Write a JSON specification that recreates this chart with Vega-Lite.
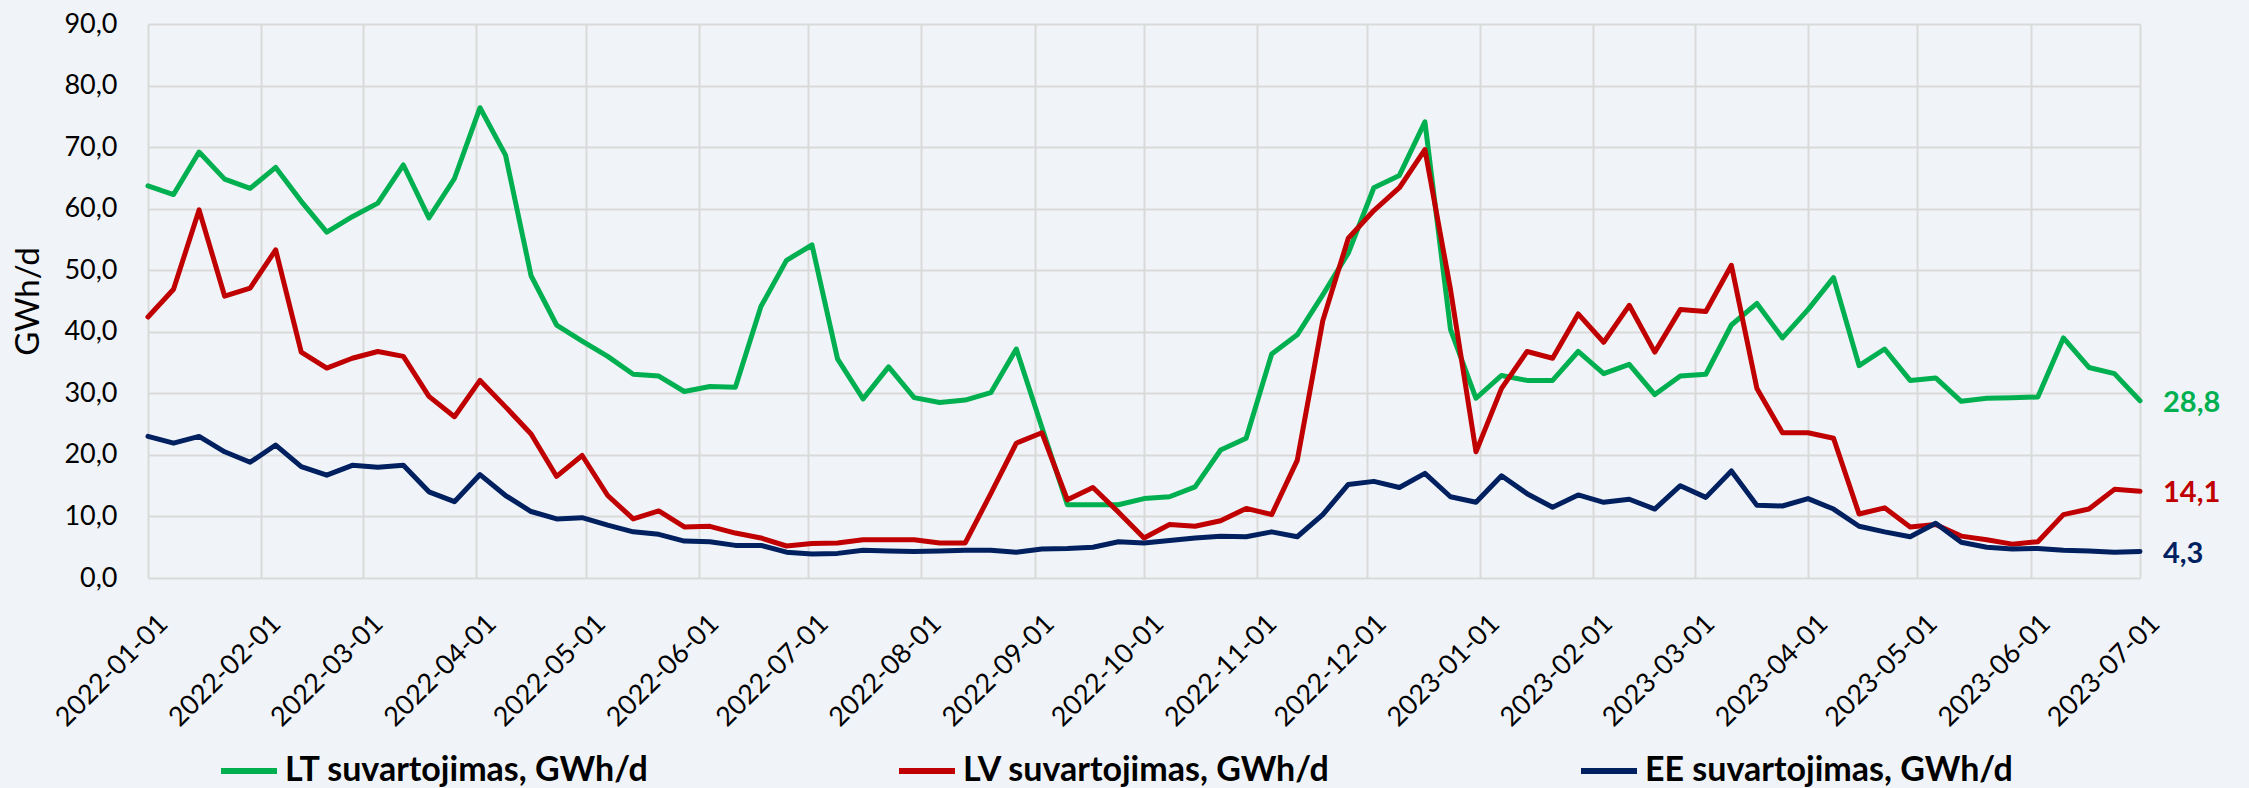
{
  "$schema": "https://vega.github.io/schema/vega-lite/v6.json",
  "width": 1992,
  "height": 554,
  "autosize": "none",
  "padding": {"left": 148, "top": 24, "right": 109, "bottom": 210},
  "background": "#F0F4F8",
  "config": {
    "locale": {"number": {"decimal": ",", "thousands": " ", "grouping": [3], "currency": ["", " €"]}},
    "view": {"stroke": null},
    "font": "Lato",
    "axis": {"labelFont": "Lato", "titleFont": "Lato", "labelColor": "#000000", "titleColor": "#000000", "gridColor": "#D9D9D9", "gridWidth": 2, "domain": false, "ticks": false}
  },
  "data": {"values": [
    {"d": "2022-01-01", "LT": 63.7, "LV": 42.4, "EE": 23.0},
    {"d": "2022-01-08", "LT": 62.3, "LV": 46.9, "EE": 21.9},
    {"d": "2022-01-15", "LT": 69.2, "LV": 59.8, "EE": 23.0},
    {"d": "2022-01-22", "LT": 64.8, "LV": 45.8, "EE": 20.5},
    {"d": "2022-01-29", "LT": 63.3, "LV": 47.1, "EE": 18.8},
    {"d": "2022-02-05", "LT": 66.7, "LV": 53.3, "EE": 21.6},
    {"d": "2022-02-12", "LT": 61.2, "LV": 36.7, "EE": 18.1},
    {"d": "2022-02-19", "LT": 56.2, "LV": 34.1, "EE": 16.7},
    {"d": "2022-02-26", "LT": 58.7, "LV": 35.7, "EE": 18.3},
    {"d": "2022-03-05", "LT": 60.9, "LV": 36.8, "EE": 18.0},
    {"d": "2022-03-12", "LT": 67.1, "LV": 36.0, "EE": 18.3},
    {"d": "2022-03-19", "LT": 58.5, "LV": 29.5, "EE": 14.0},
    {"d": "2022-03-26", "LT": 64.9, "LV": 26.2, "EE": 12.4},
    {"d": "2022-04-02", "LT": 76.4, "LV": 32.1, "EE": 16.8},
    {"d": "2022-04-09", "LT": 68.7, "LV": 27.8, "EE": 13.4},
    {"d": "2022-04-16", "LT": 49.1, "LV": 23.4, "EE": 10.8},
    {"d": "2022-04-23", "LT": 41.1, "LV": 16.5, "EE": 9.6},
    {"d": "2022-04-30", "LT": 38.5, "LV": 19.9, "EE": 9.8},
    {"d": "2022-05-07", "LT": 36.0, "LV": 13.4, "EE": 8.6},
    {"d": "2022-05-14", "LT": 33.1, "LV": 9.6, "EE": 7.5},
    {"d": "2022-05-21", "LT": 32.8, "LV": 10.9, "EE": 7.1},
    {"d": "2022-05-28", "LT": 30.3, "LV": 8.3, "EE": 6.0},
    {"d": "2022-06-04", "LT": 31.1, "LV": 8.4, "EE": 5.9},
    {"d": "2022-06-11", "LT": 31.0, "LV": 7.3, "EE": 5.3},
    {"d": "2022-06-18", "LT": 44.1, "LV": 6.5, "EE": 5.3},
    {"d": "2022-06-25", "LT": 51.6, "LV": 5.2, "EE": 4.2},
    {"d": "2022-07-02", "LT": 54.1, "LV": 5.6, "EE": 3.9},
    {"d": "2022-07-09", "LT": 35.6, "LV": 5.7, "EE": 4.0},
    {"d": "2022-07-16", "LT": 29.1, "LV": 6.2, "EE": 4.5},
    {"d": "2022-07-23", "LT": 34.3, "LV": 6.2, "EE": 4.4},
    {"d": "2022-07-30", "LT": 29.3, "LV": 6.2, "EE": 4.3},
    {"d": "2022-08-06", "LT": 28.5, "LV": 5.7, "EE": 4.4},
    {"d": "2022-08-13", "LT": 28.9, "LV": 5.7, "EE": 4.5},
    {"d": "2022-08-20", "LT": 30.1, "LV": 13.7, "EE": 4.5},
    {"d": "2022-08-27", "LT": 37.2, "LV": 21.9, "EE": 4.2},
    {"d": "2022-09-03", "LT": 24.5, "LV": 23.6, "EE": 4.7},
    {"d": "2022-09-10", "LT": 11.9, "LV": 12.7, "EE": 4.8},
    {"d": "2022-09-17", "LT": 11.9, "LV": 14.7, "EE": 5.0},
    {"d": "2022-09-24", "LT": 11.9, "LV": 10.7, "EE": 5.9},
    {"d": "2022-10-01", "LT": 12.9, "LV": 6.5, "EE": 5.7},
    {"d": "2022-10-08", "LT": 13.2, "LV": 8.7, "EE": 6.1},
    {"d": "2022-10-15", "LT": 14.8, "LV": 8.4, "EE": 6.5},
    {"d": "2022-10-22", "LT": 20.8, "LV": 9.3, "EE": 6.8},
    {"d": "2022-10-29", "LT": 22.7, "LV": 11.3, "EE": 6.7},
    {"d": "2022-11-05", "LT": 36.4, "LV": 10.3, "EE": 7.5},
    {"d": "2022-11-12", "LT": 39.5, "LV": 19.1, "EE": 6.7},
    {"d": "2022-11-19", "LT": 46.0, "LV": 41.8, "EE": 10.3},
    {"d": "2022-11-26", "LT": 52.8, "LV": 55.2, "EE": 15.2},
    {"d": "2022-12-03", "LT": 63.4, "LV": 59.7, "EE": 15.7},
    {"d": "2022-12-10", "LT": 65.4, "LV": 63.4, "EE": 14.7},
    {"d": "2022-12-17", "LT": 74.1, "LV": 69.6, "EE": 17.0},
    {"d": "2022-12-24", "LT": 40.4, "LV": 46.9, "EE": 13.2},
    {"d": "2022-12-31", "LT": 29.2, "LV": 20.5, "EE": 12.3},
    {"d": "2023-01-07", "LT": 32.9, "LV": 30.8, "EE": 16.6},
    {"d": "2023-01-14", "LT": 32.1, "LV": 36.8, "EE": 13.7},
    {"d": "2023-01-21", "LT": 32.1, "LV": 35.7, "EE": 11.5},
    {"d": "2023-01-28", "LT": 36.8, "LV": 42.9, "EE": 13.5},
    {"d": "2023-02-04", "LT": 33.2, "LV": 38.3, "EE": 12.3},
    {"d": "2023-02-11", "LT": 34.7, "LV": 44.3, "EE": 12.8},
    {"d": "2023-02-18", "LT": 29.8, "LV": 36.7, "EE": 11.2},
    {"d": "2023-02-25", "LT": 32.8, "LV": 43.6, "EE": 15.0},
    {"d": "2023-03-04", "LT": 33.1, "LV": 43.3, "EE": 13.1},
    {"d": "2023-03-11", "LT": 41.1, "LV": 50.8, "EE": 17.4},
    {"d": "2023-03-18", "LT": 44.6, "LV": 30.8, "EE": 11.8},
    {"d": "2023-03-25", "LT": 39.0, "LV": 23.6, "EE": 11.7},
    {"d": "2023-04-01", "LT": 43.6, "LV": 23.6, "EE": 12.9},
    {"d": "2023-04-08", "LT": 48.8, "LV": 22.7, "EE": 11.2},
    {"d": "2023-04-15", "LT": 34.5, "LV": 10.4, "EE": 8.4},
    {"d": "2023-04-22", "LT": 37.2, "LV": 11.4, "EE": 7.5},
    {"d": "2023-04-29", "LT": 32.1, "LV": 8.3, "EE": 6.7},
    {"d": "2023-05-06", "LT": 32.5, "LV": 8.7, "EE": 8.9},
    {"d": "2023-05-13", "LT": 28.7, "LV": 6.8, "EE": 5.8},
    {"d": "2023-05-20", "LT": 29.2, "LV": 6.2, "EE": 5.0},
    {"d": "2023-05-27", "LT": 29.3, "LV": 5.5, "EE": 4.7},
    {"d": "2023-06-03", "LT": 29.4, "LV": 5.9, "EE": 4.8},
    {"d": "2023-06-10", "LT": 39.0, "LV": 10.3, "EE": 4.5},
    {"d": "2023-06-17", "LT": 34.2, "LV": 11.2, "EE": 4.4},
    {"d": "2023-06-24", "LT": 33.2, "LV": 14.4, "EE": 4.2},
    {"d": "2023-07-01", "LT": 28.8, "LV": 14.1, "EE": 4.3}
  ]},
  "transform": [{"fold": ["LT", "LV", "EE"], "as": ["series", "value"]}],
  "encoding": {
    "x": {
      "field": "d", "type": "temporal",
      "scale": {"type": "utc", "nice": false},
      "axis": {
        "title": null,
        "tickCount": {"interval": "month", "step": 1},
        "labelExpr": "utcFormat(datum.value, '%Y-%m-%d')",
        "labelAngle": -45,
        "labelAlign": "right",
        "labelBaseline": "top",
        "labelFontSize": 27,
        "labelPadding": 32,
        "labelOffset": 6,
        "labelOverlap": false,
        "labelBound": false,
        "labelFlush": false,
        "grid": true
      }
    },
    "y": {
      "field": "value", "type": "quantitative",
      "scale": {"domain": [0, 90], "nice": false},
      "axis": {
        "title": "GWh/d",
        "titleFontSize": 33,
        "titleFontWeight": "normal",
        "titlePadding": 18,
        "values": [0, 10, 20, 30, 40, 50, 60, 70, 80, 90],
        "format": ".1f",
        "labelFontSize": 27,
        "labelPadding": 31,
        "grid": true
      }
    },
    "color": {
      "field": "series", "type": "nominal",
      "scale": {"domain": ["LT", "LV", "EE"], "range": ["#00B050", "#C00000", "#002060"]}
    }
  },
  "layer": [
    {
      "mark": {"type": "line", "strokeWidth": 5, "strokeJoin": "round", "strokeCap": "round"},
      "encoding": {
        "color": {
          "field": "series", "type": "nominal",
          "legend": {
            "orient": "none", "legendX": 70, "legendY": 716,
            "direction": "horizontal", "columns": 3, "columnPadding": 238,
            "symbolType": "stroke", "symbolSize": 3136, "symbolStrokeWidth": 6,
            "labelFontSize": 34, "labelFont": "Lato", "labelFontWeight": "bold", "labelColor": "#000000",
            "labelExpr": "datum.label + ' suvartojimas, GWh/d'",
            "labelLimit": 0, "labelOffset": 5, "title": null
          }
        }
      }
    },
    {
      "transform": [{"filter": {"field": "d", "equal": {"year": 2023, "month": 7, "date": 1, "utc": true}}}],
      "mark": {"type": "text", "align": "left", "baseline": "middle", "dx": 23, "dy": 2, "fontSize": 29, "fontWeight": "bold", "font": "Lato"},
      "encoding": {
        "text": {"field": "value", "type": "quantitative", "format": ".1f"}
      }
    }
  ]
}
